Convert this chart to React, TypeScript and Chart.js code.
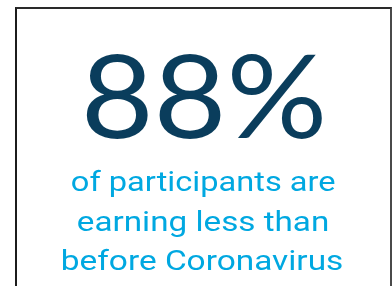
import React, { useEffect, useRef } from "react";
import { Chart, registerables } from "chart.js";

Chart.register(...registerables);

// ---- data ----
const statValue = [88];
const statUnit = ["%"];
const captionLines = ["of participants are", "earning less than", "before Coronavirus"];

const NAVY = "#0a3d5c";
const CYAN = "#00a8e1";

type FitSpec = {
  text: string;
  family: string;
  weight: string;
  color: string;
  cx: number;
  baseline: number;
  inkWidth: number;
  refGlyph: string;
  refHeight: number;
};

function drawFitted(ctx: CanvasRenderingContext2D, s: FitSpec) {
  const base = 100;
  ctx.font = `${s.weight} ${base}px ${s.family}`;
  const ref = ctx.measureText(s.refGlyph);
  const refH = ref.actualBoundingBoxAscent + ref.actualBoundingBoxDescent;
  const size = (base * s.refHeight) / refH;
  ctx.font = `${s.weight} ${size}px ${s.family}`;
  const m = ctx.measureText(s.text);
  const w = m.actualBoundingBoxLeft + m.actualBoundingBoxRight;
  const sx = s.inkWidth / w;
  ctx.save();
  ctx.translate(s.cx, s.baseline);
  ctx.scale(sx, 1);
  ctx.textAlign = "left";
  ctx.textBaseline = "alphabetic";
  ctx.fillStyle = s.color;
  ctx.fillText(s.text, -(m.actualBoundingBoxRight - m.actualBoundingBoxLeft) / 2, 0);
  ctx.restore();
}

export default function App() {
  const ref = useRef<HTMLCanvasElement>(null);

  useEffect(() => {
    const statPlugin = {
      id: "statText",
      afterDraw(chart: any) {
        const ctx = chart.ctx as CanvasRenderingContext2D;
        drawFitted(ctx, {
          text: `${statValue[0]}${statUnit[0]}`,
          family: "Lato, sans-serif",
          weight: "400",
          color: NAVY,
          cx: 187,
          baseline: 129,
          inkWidth: 236,
          refGlyph: "8",
          refHeight: 88,
        });
        const lineSpecs = [
          { cx: 186.5, baseline: 182, inkWidth: 263 },
          { cx: 186, baseline: 222, inkWidth: 250 },
          { cx: 185, baseline: 261, inkWidth: 280 },
        ];
        captionLines.forEach((t, i) => {
          drawFitted(ctx, {
            text: t,
            family: "Roboto, sans-serif",
            weight: "400",
            color: CYAN,
            cx: lineSpecs[i].cx,
            baseline: lineSpecs[i].baseline,
            inkWidth: lineSpecs[i].inkWidth,
            refGlyph: "o",
            refHeight: 15,
          });
        });
      },
    };

    const chart = new Chart(ref.current!, {
      type: "bar",
      data: { labels: [], datasets: [] },
      options: {
        animation: false,
        responsive: false,
        events: [],
        plugins: {
          legend: { display: false },
          tooltip: { enabled: false },
        },
        scales: {
          x: { display: false },
          y: { display: false },
        },
      },
      plugins: [statPlugin],
    });
    return () => chart.destroy();
  }, []);

  return (
    <div
      style={{
        position: "fixed",
        left: 15,
        top: 7,
        width: 373,
        height: 300,
        borderLeft: "2px solid #1c1c1c",
        borderTop: "2px solid #2a2a2a",
        borderRight: "2px solid #4a4a4a",
        background: "#fff",
      }}
    >
      <canvas ref={ref} width={373} height={280} style={{ display: "block" }} />
    </div>
  );
}
